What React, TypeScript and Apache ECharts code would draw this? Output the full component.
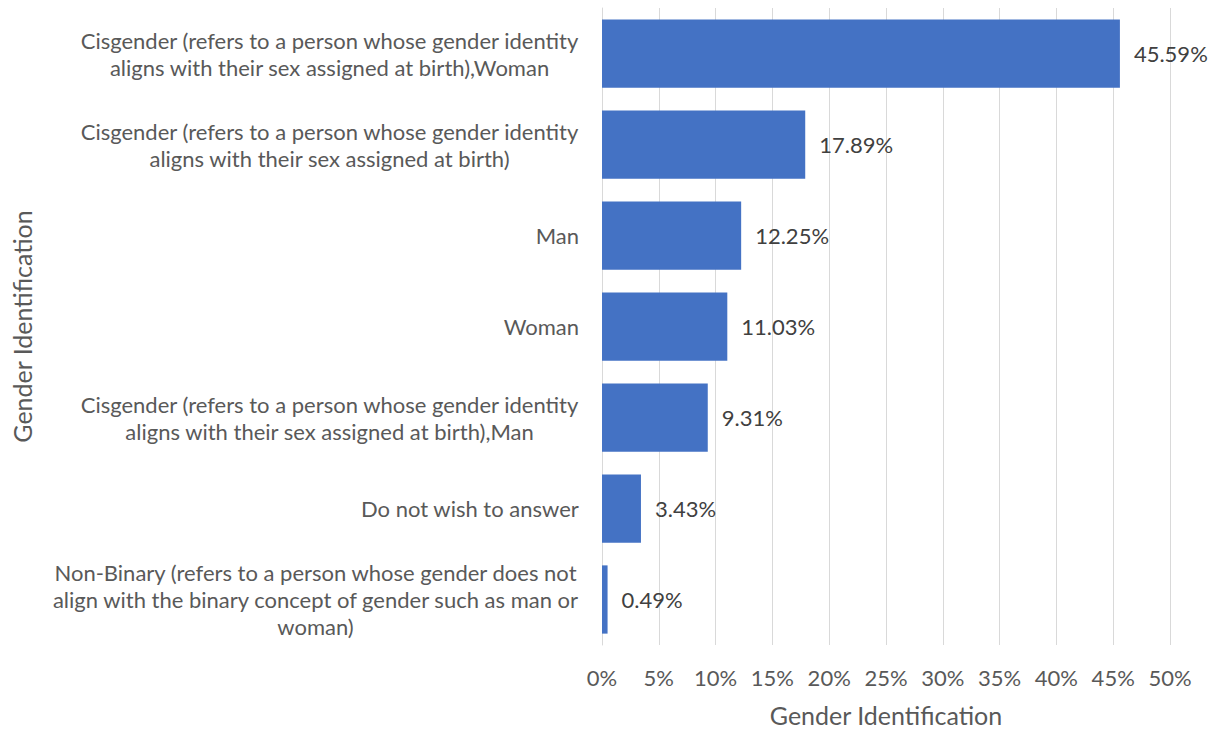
import React, { useEffect, useRef } from "react";
import * as echarts from "echarts";

const categories = [
  "Cisgender (refers to a person whose gender identity\naligns with their sex assigned at birth),Woman",
  "Cisgender (refers to a person whose gender identity\naligns with their sex assigned at birth)",
  "Man",
  "Woman",
  "Cisgender (refers to a person whose gender identity\naligns with their sex assigned at birth),Man",
  "Do not wish to answer",
  "Non-Binary (refers to a person whose gender does not\nalign with the binary concept of gender such as man or\nwoman)",
];
const values = [45.59, 17.89, 12.25, 11.03, 9.31, 3.43, 0.49];
const xTicks = { min: 0, max: 50, interval: 5 };

const FONT = "Lato, 'Open Sans', sans-serif";
const LABEL_SIZE = 22;

function measure(text: string): number {
  const c = document.createElement("canvas").getContext("2d");
  if (!c) return text.length * 10;
  c.font = `${LABEL_SIZE}px Lato`;
  return c.measureText(text).width;
}

export default function App() {
  const ref = useRef<HTMLDivElement>(null);
  useEffect(() => {
    if (!ref.current) return;
    const chart = echarts.init(ref.current, undefined, { renderer: "svg" });
    const rich: Record<string, any> = {};
    categories.forEach((c, i) => {
      const w = Math.max(...c.split("\n").map(measure)) + 2;
      rich["r" + i] = {
        width: w,
        align: "center",
        fontSize: LABEL_SIZE,
        fontFamily: FONT,
        color: "#595959",
        lineHeight: 27,
      };
    });
    chart.setOption({
      animation: false,
      backgroundColor: "#ffffff",
      textStyle: { fontFamily: FONT },
      grid: {
        left: 602,
        right: 46,
        top: 8,
        bottom: 84,
        containLabel: false,
        outerBoundsMode: "none",
      },
      xAxis: {
        type: "value",
        min: xTicks.min,
        max: xTicks.max,
        interval: xTicks.interval,
        axisLabel: {
          formatter: (v: number) => `${v}%`,
          fontSize: LABEL_SIZE,
          color: "#595959",
          fontFamily: FONT,
          margin: 21,
        },
        axisLine: { show: false },
        axisTick: { show: false },
        splitLine: { show: true, lineStyle: { color: "#d9d9d9", width: 1 } },
        name: "Gender Identification",
        nameLocation: "middle",
        nameGap: 57,
        nameMoveOverlap: false,
        nameTextStyle: { fontSize: 25, color: "#595959", fontFamily: FONT },
      },
      yAxis: {
        type: "category",
        inverse: true,
        data: categories,
        axisLine: { show: true, lineStyle: { color: "#d9d9d9", width: 1 } },
        axisTick: { show: false },
        axisLabel: {
          margin: 22,
          formatter: (v: string, i: number) =>
            v
              .split("\n")
              .map((l) => `{r${i}|${l}}`)
              .join("\n"),
          rich,
        },
        name: "Gender Identification",
        nameLocation: "middle",
        nameGap: 568,
        nameMoveOverlap: false,
        nameTextStyle: { fontSize: 25, color: "#595959", fontFamily: FONT },
      },
      series: [
        {
          type: "bar",
          data: values,
          barWidth: "75%",
          itemStyle: { color: "#4472C4" },
          label: {
            show: true,
            position: "right",
            distance: 14,
            formatter: (p: any) => `${p.value.toFixed(2)}%`,
            fontSize: LABEL_SIZE,
            color: "#404040",
            fontFamily: FONT,
          },
        },
      ],
    });
    return () => chart.dispose();
  }, []);
  return (
    <div
      ref={ref}
      style={{ position: "fixed", left: 0, top: 0, width: 1216, height: 729 }}
    />
  );
}
